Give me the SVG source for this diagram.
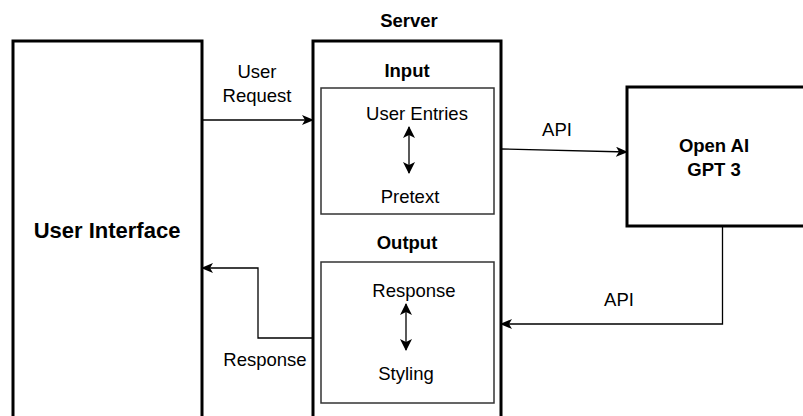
<svg xmlns="http://www.w3.org/2000/svg" width="803" height="416" viewBox="0 0 803 416">
<defs>
<style>
.box{fill:#fff;stroke:#000;stroke-width:3}
.inner{fill:none;stroke:#333;stroke-width:1.5}
.conn{fill:none;stroke:#000;stroke-width:1.3}
text{font-family:"Liberation Sans",Arial,sans-serif;font-size:18.5px;fill:#000;text-anchor:middle}
.b{font-weight:bold}
.lg{font-size:22px;font-weight:bold}
</style>
<marker id="ah" markerWidth="12" markerHeight="10" refX="11" refY="5" orient="auto" markerUnits="userSpaceOnUse">
<path d="M0,0 L12,5 L0,10 L3,5 Z" fill="#000"/>
</marker>
<marker id="ah2" markerWidth="12" markerHeight="12" refX="11" refY="6" orient="auto-start-reverse" markerUnits="userSpaceOnUse">
<path d="M0,0 L12,6 L0,12 L3,6 Z" fill="#000"/>
</marker>
</defs>
<rect width="803" height="416" fill="#fff"/>
<g id="user-interface">
<rect class="box" x="13" y="41" width="189" height="390"/>
<text class="lg" x="107" y="238">User Interface</text>
</g>
<g id="server">
<text class="b" x="409" y="27">Server</text>
<rect class="box" x="313" y="41" width="188" height="390"/>
</g>
<g id="input">
<text class="b" x="407" y="77">Input</text>
<rect class="inner" x="321" y="88" width="173" height="126"/>
<text x="417" y="120">User Entries</text>
<text x="410" y="203">Pretext</text>
</g>
<g id="output">
<text class="b" x="407" y="249">Output</text>
<rect class="inner" x="321" y="262" width="173" height="141"/>
<text x="414" y="297">Response</text>
<text x="406" y="380">Styling</text>
</g>
<g id="openai">
<rect class="box" x="627" y="87" width="190" height="139"/>
<text class="b" x="714" y="152">Open AI</text>
<text class="b" x="714" y="176">GPT 3</text>
</g>
<g id="connectors">
<line class="conn" x1="202" y1="120" x2="313" y2="120" marker-end="url(#ah)"/>
<line class="conn" x1="501" y1="149" x2="627" y2="152" marker-end="url(#ah)"/>
<polyline class="conn" points="722.5,226 722.5,324 501,324" marker-end="url(#ah)"/>
<polyline class="conn" points="313,338 258,338 258,268 202,268" marker-end="url(#ah)"/>
<line class="conn" x1="409" y1="127" x2="409" y2="173" marker-start="url(#ah2)" marker-end="url(#ah2)"/>
<line class="conn" x1="406" y1="304" x2="406" y2="350" marker-start="url(#ah2)" marker-end="url(#ah2)"/>
<text x="257" y="78">User</text>
<text x="257" y="102">Request</text>
<text x="557" y="136">API</text>
<text x="619" y="306">API</text>
<text x="265" y="366">Response</text>
</g>
</svg>
